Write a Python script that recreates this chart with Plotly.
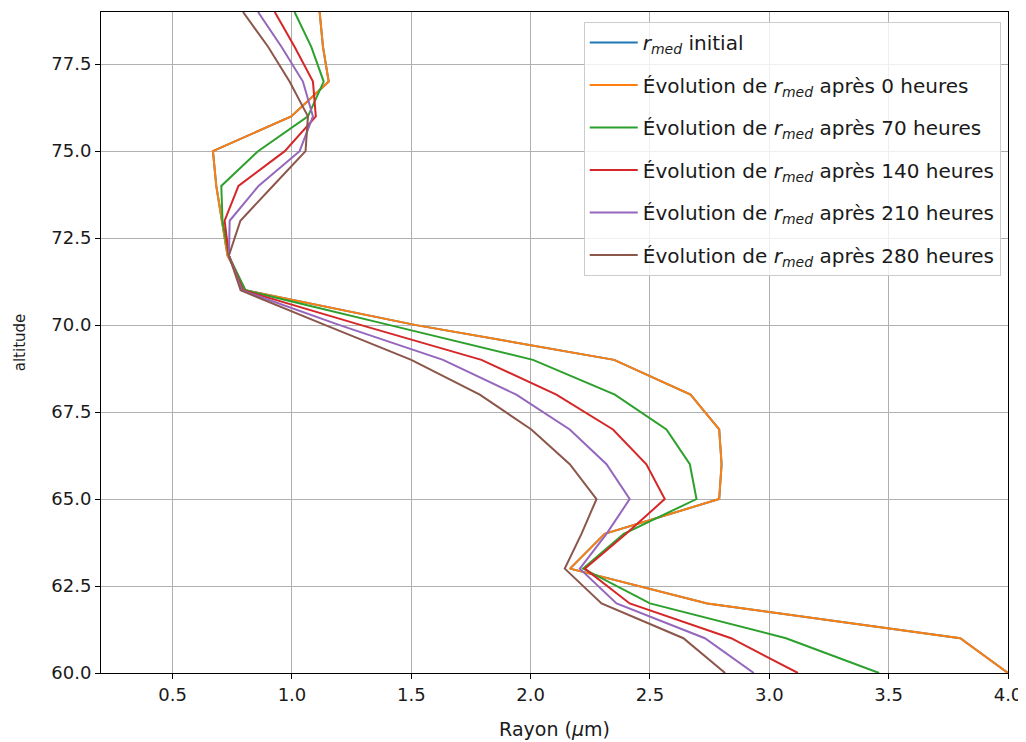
import plotly.graph_objects as go

altitude = list(range(60, 80))

r_initial = [4.00, 3.80, 2.74, 2.165, 2.31, 2.79, 2.80, 2.79, 2.67, 2.35,
             1.52, 0.805, 0.73, 0.707, 0.683, 0.669, 0.997, 1.154, 1.13, 1.116]
r_0h = [4.00, 3.80, 2.74, 2.165, 2.31, 2.79, 2.80, 2.79, 2.67, 2.35,
        1.52, 0.805, 0.73, 0.707, 0.683, 0.669, 0.997, 1.154, 1.13, 1.116]
r_70h = [3.46, 3.07, 2.50, 2.22, 2.39, 2.695, 2.667, 2.569, 2.353, 2.01,
         1.41, 0.805, 0.735, 0.709, 0.704, 0.858, 1.067, 1.133, 1.081, 1.011]
r_140h = [3.12, 2.84, 2.415, 2.227, 2.40, 2.562, 2.485, 2.345, 2.108, 1.794,
          1.29, 0.795, 0.736, 0.718, 0.776, 0.97, 1.10, 1.088, 1.011, 0.928]
r_210h = [2.935, 2.73, 2.36, 2.206, 2.318, 2.415, 2.318, 2.164, 1.94, 1.633,
          1.20, 0.79, 0.736, 0.739, 0.86, 1.032, 1.088, 1.046, 0.956, 0.858]
r_280h = [2.815, 2.64, 2.297, 2.143, 2.213, 2.276, 2.164, 2.003, 1.787, 1.50,
          1.14, 0.785, 0.736, 0.784, 0.92, 1.057, 1.067, 0.99, 0.90, 0.795]

rmed = "<i>r</i><sub><i>med</i></sub>"
series = [
    (rmed + " initial", r_initial, "#1f77b4"),
    ("Évolution de " + rmed + " après 0 heures", r_0h, "#ff7f0e"),
    ("Évolution de " + rmed + " après 70 heures", r_70h, "#2ca02c"),
    ("Évolution de " + rmed + " après 140 heures", r_140h, "#d62728"),
    ("Évolution de " + rmed + " après 210 heures", r_210h, "#9467bd"),
    ("Évolution de " + rmed + " après 280 heures", r_280h, "#8c564b"),
]

FONT = "DejaVu Sans"

fig = go.Figure()
for i, (name, vals, color) in enumerate(series):
    fig.add_trace(go.Scatter(
        x=vals, y=altitude, mode="lines", name=name,
        line=dict(color=color, width=2), legendgroup="g%d" % i,
    ))

axis_common = dict(
    showgrid=True, gridcolor="#b0b0b0", gridwidth=1,
    showline=True, linecolor="black", linewidth=1, mirror=True,
    ticks="outside", ticklen=5, tickcolor="black", tickwidth=1,
    tickformat=".1f", zeroline=False,
    tickfont=dict(family=FONT, size=18, color="#1a1a1a"),
)

fig.update_layout(
    width=1018, height=734,
    margin=dict(l=93, r=18, t=4, b=69),
    paper_bgcolor="white", plot_bgcolor="white",
    font=dict(family=FONT, size=18, color="#1a1a1a"),
    xaxis=dict(range=[0.2, 4.0], dtick=0.5, tick0=0.5,
               title=dict(text="Rayon (<i>μ</i>m)", standoff=19,
                          font=dict(family=FONT, size=19)),
               **axis_common),
    yaxis=dict(range=[60, 79], dtick=2.5, tick0=60,
               title=dict(text="altitude", standoff=22,
                          font=dict(family=FONT, size=15)),
               **axis_common),
    legend=dict(
        x=0.992, y=0.985, xanchor="right", yanchor="top",
        bgcolor="rgba(255,255,255,0.8)", bordercolor="#cccccc", borderwidth=1,
        font=dict(family=FONT, size=20, color="#1a1a1a"),
        tracegroupgap=13.5, traceorder="grouped", itemwidth=48,
    ),
    showlegend=True,
)

fig.write_html("out.html")
